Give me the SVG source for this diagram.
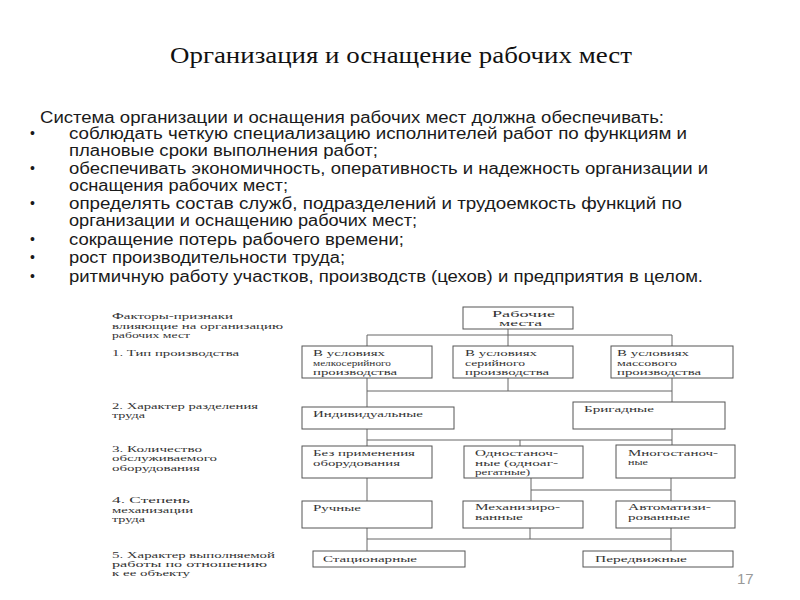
<svg xmlns="http://www.w3.org/2000/svg" width="800" height="600" viewBox="0 0 800 600">
<style>
.title{font-family:"Liberation Serif",serif;font-size:24px;fill:#111}
.body{font-family:"Liberation Sans",Arial,sans-serif;font-size:16px;fill:#1a1a1a}
.bul{font-family:"Liberation Sans",Arial,sans-serif;font-size:14px;fill:#1a1a1a}
.d{font-family:"Liberation Serif",serif;font-size:8.5px;fill:#333}
.box{fill:#fff;stroke:#555;stroke-width:1}
.con{fill:none;stroke:#666;stroke-width:1}
.pg{font-family:"Liberation Sans",Arial,sans-serif;font-size:15px;fill:#999}
</style>
<rect width="800" height="600" fill="#fff"/>
<text class="title" x="170" y="63" textLength="462" lengthAdjust="spacingAndGlyphs">Организация и оснащение рабочих мест</text>
<g id="body-text">
<text class="body" x="40" y="123" textLength="624" lengthAdjust="spacingAndGlyphs">Система организации и оснащения рабочих мест должна обеспечивать:</text>
<text class="bul" x="30" y="138">•</text>
<text class="body" x="69" y="139" textLength="618" lengthAdjust="spacingAndGlyphs">соблюдать четкую специализацию исполнителей работ по функциям и</text>
<text class="body" x="69" y="156" textLength="309" lengthAdjust="spacingAndGlyphs">плановые сроки выполнения работ;</text>
<text class="bul" x="30" y="173">•</text>
<text class="body" x="69" y="174" textLength="639" lengthAdjust="spacingAndGlyphs">обеспечивать экономичность, оперативность и надежность организации и</text>
<text class="body" x="69" y="191" textLength="219" lengthAdjust="spacingAndGlyphs">оснащения рабочих мест;</text>
<text class="bul" x="30" y="208">•</text>
<text class="body" x="69" y="209" textLength="613" lengthAdjust="spacingAndGlyphs">определять состав служб, подразделений и трудоемкость функций по</text>
<text class="body" x="69" y="226" textLength="348" lengthAdjust="spacingAndGlyphs">организации и оснащению рабочих мест;</text>
<text class="bul" x="30" y="244">•</text>
<text class="body" x="69" y="245" textLength="335" lengthAdjust="spacingAndGlyphs">сокращение потерь рабочего времени;</text>
<text class="bul" x="30" y="262">•</text>
<text class="body" x="69" y="263" textLength="276" lengthAdjust="spacingAndGlyphs">рост производительности труда;</text>
<text class="bul" x="30" y="281">•</text>
<text class="body" x="69" y="282" textLength="634" lengthAdjust="spacingAndGlyphs">ритмичную работу участков, производств (цехов) и предприятия в целом.</text>
</g>
<g id="factor-labels">
<text class="d" x="112" y="319" textLength="121" lengthAdjust="spacingAndGlyphs">Факторы-признаки</text>
<text class="d" x="112" y="329" textLength="171" lengthAdjust="spacingAndGlyphs">влияющие на организацию</text>
<text class="d" x="112" y="338" textLength="78" lengthAdjust="spacingAndGlyphs">рабочих мест</text>
<text class="d" x="112" y="356" textLength="127" lengthAdjust="spacingAndGlyphs">1. Тип производства</text>
<text class="d" x="112" y="409" textLength="146" lengthAdjust="spacingAndGlyphs">2. Характер разделения</text>
<text class="d" x="112" y="418" textLength="33" lengthAdjust="spacingAndGlyphs">труда</text>
<text class="d" x="112" y="452" textLength="90" lengthAdjust="spacingAndGlyphs">3. Количество</text>
<text class="d" x="112" y="461" textLength="105" lengthAdjust="spacingAndGlyphs">обслуживаемого</text>
<text class="d" x="112" y="471" textLength="88" lengthAdjust="spacingAndGlyphs">оборудования</text>
<text class="d" x="112" y="503" textLength="78" lengthAdjust="spacingAndGlyphs">4. Степень</text>
<text class="d" x="112" y="513" textLength="81" lengthAdjust="spacingAndGlyphs">механизации</text>
<text class="d" x="112" y="522" textLength="33" lengthAdjust="spacingAndGlyphs">труда</text>
<text class="d" x="112" y="558" textLength="163" lengthAdjust="spacingAndGlyphs">5. Характер выполняемой</text>
<text class="d" x="112" y="567" textLength="155" lengthAdjust="spacingAndGlyphs">работы по отношению</text>
<text class="d" x="112" y="576" textLength="78" lengthAdjust="spacingAndGlyphs">к ее объекту</text>
</g>
<g id="connectors">
<path class="con" d="M508 329V346M367 335H672M367 335V346M672 335V346"/>
<path class="con" d="M367 378V407M508 378V391M672 378V402M367 391H672"/>
<path class="con" d="M367 429V446M672 429V445M367 440H672M520 440V446"/>
<path class="con" d="M367 478V501M531 478V501M671 478V501M531 490H671"/>
<path class="con" d="M367 528V551M530 528V539M671 528V551M367 539H671"/>
</g>
<g id="n-root"><rect class="box" x="463" y="307" width="110" height="22"/>
<text class="d" x="492" y="317" textLength="63" lengthAdjust="spacingAndGlyphs">Рабочие</text>
<text class="d" x="499" y="326" textLength="43" lengthAdjust="spacingAndGlyphs">места</text></g>
<g id="n-small"><rect class="box" x="302" y="346" width="130" height="32"/>
<text class="d" x="313" y="356" textLength="72" lengthAdjust="spacingAndGlyphs">В условиях</text>
<text class="d" x="313" y="366" textLength="78" lengthAdjust="spacingAndGlyphs">мелкосерийного</text>
<text class="d" x="313" y="375" textLength="84" lengthAdjust="spacingAndGlyphs">производства</text></g>
<g id="n-serial"><rect class="box" x="453" y="346" width="120" height="32"/>
<text class="d" x="465" y="356" textLength="72" lengthAdjust="spacingAndGlyphs">В условиях</text>
<text class="d" x="465" y="366" textLength="60" lengthAdjust="spacingAndGlyphs">серийного</text>
<text class="d" x="465" y="375" textLength="84" lengthAdjust="spacingAndGlyphs">производства</text></g>
<g id="n-mass"><rect class="box" x="611" y="346" width="122" height="32"/>
<text class="d" x="617" y="356" textLength="72" lengthAdjust="spacingAndGlyphs">В условиях</text>
<text class="d" x="617" y="366" textLength="60" lengthAdjust="spacingAndGlyphs">массового</text>
<text class="d" x="617" y="375" textLength="84" lengthAdjust="spacingAndGlyphs">производства</text></g>
<g id="n-indiv"><rect class="box" x="302" y="407" width="152" height="22"/>
<text class="d" x="313" y="417" textLength="110" lengthAdjust="spacingAndGlyphs">Индивидуальные</text></g>
<g id="n-brig"><rect class="box" x="573" y="402" width="152" height="27"/>
<text class="d" x="584" y="412" textLength="70" lengthAdjust="spacingAndGlyphs">Бригадные</text></g>
<g id="n-noequip"><rect class="box" x="302" y="446" width="130" height="32"/>
<text class="d" x="313" y="456" textLength="102" lengthAdjust="spacingAndGlyphs">Без применения</text>
<text class="d" x="313" y="466" textLength="87" lengthAdjust="spacingAndGlyphs">оборудования</text></g>
<g id="n-single"><rect class="box" x="464" y="446" width="119" height="32"/>
<text class="d" x="475" y="456" textLength="83" lengthAdjust="spacingAndGlyphs">Одностаноч-</text>
<text class="d" x="475" y="466" textLength="83" lengthAdjust="spacingAndGlyphs">ные (одноаг-</text>
<text class="d" x="475" y="475" textLength="55" lengthAdjust="spacingAndGlyphs">регатные)</text></g>
<g id="n-multi"><rect class="box" x="616" y="445" width="119" height="33"/>
<text class="d" x="628" y="456" textLength="90" lengthAdjust="spacingAndGlyphs">Многостаноч-</text>
<text class="d" x="628" y="465" textLength="20" lengthAdjust="spacingAndGlyphs">ные</text></g>
<g id="n-manual"><rect class="box" x="302" y="501" width="130" height="27"/>
<text class="d" x="313" y="511" textLength="48" lengthAdjust="spacingAndGlyphs">Ручные</text></g>
<g id="n-mech"><rect class="box" x="463" y="501" width="120" height="27"/>
<text class="d" x="475" y="510" textLength="85" lengthAdjust="spacingAndGlyphs">Механизиро-</text>
<text class="d" x="475" y="520" textLength="48" lengthAdjust="spacingAndGlyphs">ванные</text></g>
<g id="n-auto"><rect class="box" x="616" y="501" width="119" height="27"/>
<text class="d" x="628" y="510" textLength="83" lengthAdjust="spacingAndGlyphs">Автоматизи-</text>
<text class="d" x="628" y="520" textLength="62" lengthAdjust="spacingAndGlyphs">рованные</text></g>
<g id="n-stat"><rect class="box" x="313" y="551" width="152" height="16"/>
<text class="d" x="323" y="562" textLength="94" lengthAdjust="spacingAndGlyphs">Стационарные</text></g>
<g id="n-mobile"><rect class="box" x="583" y="551" width="150" height="16"/>
<text class="d" x="595" y="562" textLength="92" lengthAdjust="spacingAndGlyphs">Передвижные</text></g>
<text class="pg" x="737" y="584">17</text>
</svg>
